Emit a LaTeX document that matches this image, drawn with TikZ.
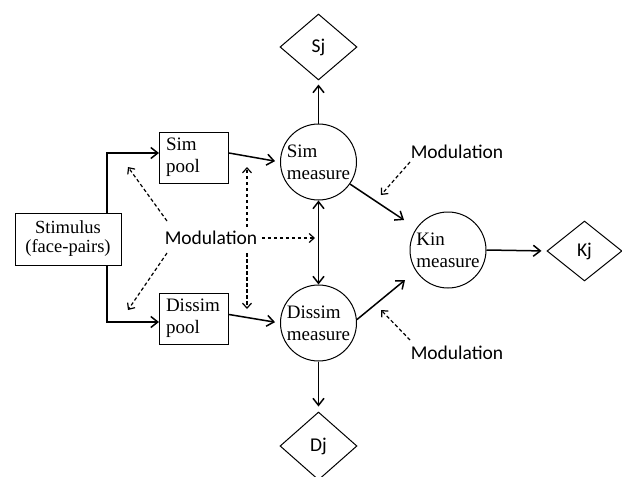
\documentclass[tikz,border=0pt]{standalone}
\usepackage{fontspec}
\setmainfont{Liberation Serif}
\newfontfamily\calib{Carlito}
\usetikzlibrary{shapes.geometric,arrows.meta,calc}
\begin{document}
\begin{tikzpicture}[x=1pt,y=-1pt,
  line width=1.5pt,
  arr/.style={-{Straight Barb[length=7pt,width=11pt,line width=1.5pt]}},
  darr/.style={{Straight Barb[length=7pt,width=11pt,line width=1.5pt]}-{Straight Barb[length=7pt,width=11pt,line width=1.5pt]}},
  dsh/.style={line width=1.2pt,dash pattern=on 3.5pt off 2.5pt,-{Straight Barb[length=5pt,width=9pt,line width=1.2pt]}},
  sq/.style={draw,line width=1pt,rectangle,inner sep=0pt,align=left,font=\fontsize{19}{22}\selectfont},
  circ/.style={draw,line width=1pt,circle,minimum size=76pt,inner sep=0pt,align=left,font=\fontsize{19}{22}\selectfont},
  dia/.style={draw,line width=1pt,diamond,minimum width=77pt,minimum height=66pt,inner sep=0pt,font=\calib\fontsize{19.5}{20}\selectfont},
  modl/.style={font=\calib\fontsize{19.5}{20}\selectfont,inner sep=1pt}
]
\useasboundingbox (0,0) rectangle (622,477);
\node[sq,minimum width=106pt,minimum height=52pt,align=center,font=\fontsize{18.5}{19}\selectfont] (stim) at (68,239) {Stimulus\\(face-pairs)};
\node[sq,minimum width=69pt,minimum height=51pt,text width=56pt] (simpool) at (194,157.5) {Sim\\pool};
\node[sq,minimum width=69pt,minimum height=51pt,text width=56pt] (dispool) at (194,318.5) {Dissim\\pool};
\node[circ] (simm) at (318.5,162) {Sim\\measure};
\node[circ] (dism) at (318.5,323) {Dissim\\measure};
\node[circ] (kin) at (448,250) {Kin\\measure};
\node[dia] (sj) at (318.5,47) {Sj};
\node[dia,minimum height=68pt] (dj) at (318.5,446) {Dj};
\node[dia,minimum width=75pt,minimum height=60pt] (kj) at (584.5,251) {Kj};
\node[modl] (mod) at (211,238) {Modulation};
\node[modl] (mod1) at (457,152) {Modulation};
\node[modl] (mod2) at (457,353) {Modulation};

\coordinate (ul) at (128,167);
\coordinate (ll) at (128,310);
\coordinate (vu0) at (247,227);
\coordinate (vu) at (247,167);
\coordinate (vd0) at (247,253);
\coordinate (vd) at (247,309);
\coordinate (hr) at (315,238);
\coordinate (m1s) at (410,162);
\coordinate (m1e) at (381,195);
\coordinate (m2s) at (410,340);
\coordinate (m2e) at (381,310);
\coordinate (ms1) at (167,221);
\coordinate (ms2) at (167,253);
\coordinate (k1) at (404,220);
\coordinate (k2) at (405,280);

% solid connectors
\draw[arr] ([xshift=39pt]stim.north) |- ([yshift=4.5pt]simpool.west);
\draw[arr] ([xshift=39pt]stim.south) |- ([yshift=-3.5pt]dispool.west);
\draw[arr,shorten >=5pt] ([yshift=4.5pt]simpool.east) -- (simm.west);
\draw[arr,shorten >=5pt] ([yshift=4pt]dispool.east) -- (dism.west);
\draw[arr,shorten >=4pt] (simm.north) -- (sj.south);
\draw[arr,shorten >=5pt] (dism.south) -- (dj.north);
\draw[darr] (simm.south) -- (dism.north);
\draw[arr] (simm.-35) -- (k1);
\draw[arr] (dism.5) -- (k2);
\draw[arr,shorten >=5pt] (kin.east) -- (kj.west);

% dashed modulation arrows
\draw[dsh] (ms1) -- (ul);
\draw[dsh] (ms2) -- (ll);
\draw[dsh] (vu0) -- (vu);
\draw[dsh] (vd0) -- (vd);
\draw[dsh,shorten <=3pt] (mod.east) -- (hr);
\draw[dsh] (m1s) -- (m1e);
\draw[dsh] (m2s) -- (m2e);
\end{tikzpicture}
\end{document}
